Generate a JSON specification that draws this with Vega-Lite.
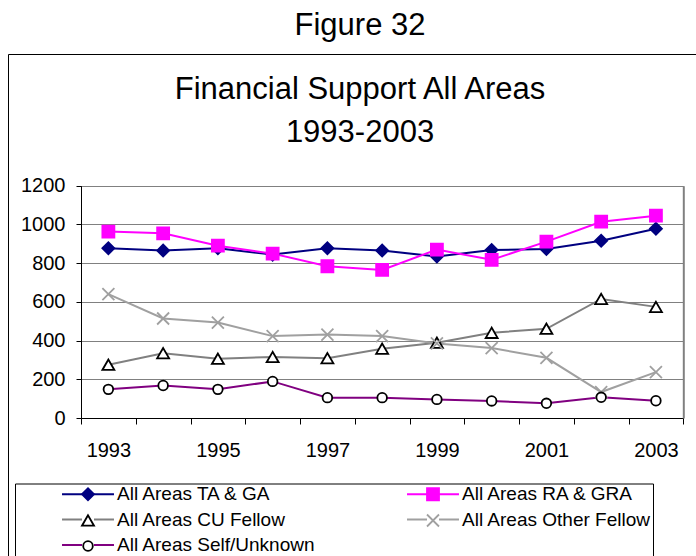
{
  "$schema": "https://vega.github.io/schema/vega-lite/v6.json",
  "width": 704,
  "height": 510,
  "autosize": {"type": "none"},
  "padding": {"left": 8, "top": 54, "right": 0, "bottom": 0},
  "background": "white",
  "config": {
    "font": "Liberation Sans",
    "view": {"stroke": "#000000", "strokeWidth": 1, "fill": "white"}
  },
  "title": {
    "text": "Figure 32",
    "subtitle": ["Financial Support All Areas", "1993-2003"],
    "fontSize": 31,
    "fontWeight": "normal",
    "color": "#000000",
    "subtitleFontSize": 31,
    "subtitleColor": "#000000",
    "subtitleLineHeight": 43,
    "subtitlePadding": 33,
    "anchor": "middle",
    "frame": "group",
    "offset": -95
  },
  "data": {
    "values": [
      {"year": 1993, "series": "All Areas TA & GA", "order": 1, "value": 877},
      {"year": 1994, "series": "All Areas TA & GA", "order": 1, "value": 865},
      {"year": 1995, "series": "All Areas TA & GA", "order": 1, "value": 877},
      {"year": 1996, "series": "All Areas TA & GA", "order": 1, "value": 844},
      {"year": 1997, "series": "All Areas TA & GA", "order": 1, "value": 877},
      {"year": 1998, "series": "All Areas TA & GA", "order": 1, "value": 865},
      {"year": 1999, "series": "All Areas TA & GA", "order": 1, "value": 834},
      {"year": 2000, "series": "All Areas TA & GA", "order": 1, "value": 868},
      {"year": 2001, "series": "All Areas TA & GA", "order": 1, "value": 873},
      {"year": 2002, "series": "All Areas TA & GA", "order": 1, "value": 916},
      {"year": 2003, "series": "All Areas TA & GA", "order": 1, "value": 978},
      {"year": 1993, "series": "All Areas RA & GRA", "order": 2, "value": 963},
      {"year": 1994, "series": "All Areas RA & GRA", "order": 2, "value": 954},
      {"year": 1995, "series": "All Areas RA & GRA", "order": 2, "value": 890},
      {"year": 1996, "series": "All Areas RA & GRA", "order": 2, "value": 849},
      {"year": 1997, "series": "All Areas RA & GRA", "order": 2, "value": 784},
      {"year": 1998, "series": "All Areas RA & GRA", "order": 2, "value": 765},
      {"year": 1999, "series": "All Areas RA & GRA", "order": 2, "value": 870},
      {"year": 2000, "series": "All Areas RA & GRA", "order": 2, "value": 817},
      {"year": 2001, "series": "All Areas RA & GRA", "order": 2, "value": 911},
      {"year": 2002, "series": "All Areas RA & GRA", "order": 2, "value": 1014},
      {"year": 2003, "series": "All Areas RA & GRA", "order": 2, "value": 1045},
      {"year": 1993, "series": "All Areas CU Fellow", "order": 3, "value": 275},
      {"year": 1994, "series": "All Areas CU Fellow", "order": 3, "value": 335},
      {"year": 1995, "series": "All Areas CU Fellow", "order": 3, "value": 306},
      {"year": 1996, "series": "All Areas CU Fellow", "order": 3, "value": 315},
      {"year": 1997, "series": "All Areas CU Fellow", "order": 3, "value": 309},
      {"year": 1998, "series": "All Areas CU Fellow", "order": 3, "value": 358},
      {"year": 1999, "series": "All Areas CU Fellow", "order": 3, "value": 389},
      {"year": 2000, "series": "All Areas CU Fellow", "order": 3, "value": 440},
      {"year": 2001, "series": "All Areas CU Fellow", "order": 3, "value": 461},
      {"year": 2002, "series": "All Areas CU Fellow", "order": 3, "value": 615},
      {"year": 2003, "series": "All Areas CU Fellow", "order": 3, "value": 574},
      {"year": 1993, "series": "All Areas Other Fellow", "order": 4, "value": 640},
      {"year": 1994, "series": "All Areas Other Fellow", "order": 4, "value": 514},
      {"year": 1995, "series": "All Areas Other Fellow", "order": 4, "value": 493},
      {"year": 1996, "series": "All Areas Other Fellow", "order": 4, "value": 423},
      {"year": 1997, "series": "All Areas Other Fellow", "order": 4, "value": 431},
      {"year": 1998, "series": "All Areas Other Fellow", "order": 4, "value": 423},
      {"year": 1999, "series": "All Areas Other Fellow", "order": 4, "value": 385},
      {"year": 2000, "series": "All Areas Other Fellow", "order": 4, "value": 361},
      {"year": 2001, "series": "All Areas Other Fellow", "order": 4, "value": 311},
      {"year": 2002, "series": "All Areas Other Fellow", "order": 4, "value": 134},
      {"year": 2003, "series": "All Areas Other Fellow", "order": 4, "value": 237},
      {"year": 1993, "series": "All Areas Self/Unknown", "order": 5, "value": 148},
      {"year": 1994, "series": "All Areas Self/Unknown", "order": 5, "value": 168},
      {"year": 1995, "series": "All Areas Self/Unknown", "order": 5, "value": 148},
      {"year": 1996, "series": "All Areas Self/Unknown", "order": 5, "value": 189},
      {"year": 1997, "series": "All Areas Self/Unknown", "order": 5, "value": 105},
      {"year": 1998, "series": "All Areas Self/Unknown", "order": 5, "value": 105},
      {"year": 1999, "series": "All Areas Self/Unknown", "order": 5, "value": 96},
      {"year": 2000, "series": "All Areas Self/Unknown", "order": 5, "value": 88},
      {"year": 2001, "series": "All Areas Self/Unknown", "order": 5, "value": 76},
      {"year": 2002, "series": "All Areas Self/Unknown", "order": 5, "value": 107},
      {"year": 2003, "series": "All Areas Self/Unknown", "order": 5, "value": 89}
    ]
  },
  "resolve": {"axis": {"y": "independent"}},
  "layer": [
    {
      "mark": {"type": "line", "strokeWidth": 2},
      "encoding": {
        "x": {
          "field": "year", "type": "ordinal", "bandPosition": 0.5,
          "scale": {"type": "band", "range": [73, 675.3], "paddingInner": 0, "paddingOuter": 0},
          "axis": {
            "orient": "bottom", "offset": -146, "title": null, "tickBand": "extent",
            "tickSize": 6, "tickColor": "#000000", "domainColor": "#000000", "domainWidth": 1,
            "labelAngle": 0, "labelFontSize": 20, "labelColor": "#000000", "labelPadding": 16,
            "labelOverlap": false, "labelFlush": false, "grid": false,
            "labelExpr": "datum.value % 2 == 1 ? datum.label : ''"
          }
        },
        "y": {
          "field": "value", "type": "quantitative",
          "scale": {"domain": [0, 1200], "range": [364, 131.7], "nice": false, "zero": true},
          "axis": {
            "orient": "left", "offset": -73, "title": null, "values": [0, 200, 400, 600, 800, 1000, 1200],
            "format": "d",
            "grid": true, "gridColor": "#808080", "gridWidth": 1, "gridOpacity": 1,
            "tickSize": 5, "tickColor": "#000000", "domainColor": "#000000", "domainWidth": 1,
            "labelFontSize": 20, "labelColor": "#000000", "labelPadding": 11
          }
        },
        "color": {
          "field": "series", "type": "nominal",
          "scale": {
            "domain": ["All Areas TA & GA", "All Areas RA & GRA", "All Areas CU Fellow", "All Areas Other Fellow", "All Areas Self/Unknown"],
            "range": ["#000080", "#FF00FF", "#808080", "#A0A0A0", "#800080"]
          },
          "legend": {
            "orient": "none", "legendX": 7, "legendY": 429.5, "columns": 2, "direction": "horizontal", "title": null,
            "symbolType": "M-4.33,0H-1M1,0H4.33", "symbolSize": 144, "symbolStrokeWidth": 2,
            "symbolOffset": 62.5, "labelOffset": 19.5, "columnPadding": 45, "rowPadding": 5.5,
            "padding": 1, "labelFontSize": 19, "labelColor": "#000000", "labelLimit": 400
          }
        }
      }
    },
    {
      "mark": {"type": "point", "size": 144, "strokeWidth": 1.8, "opacity": 1},
      "encoding": {
        "x": {
          "field": "year", "type": "ordinal", "bandPosition": 0.5,
          "scale": {"type": "band", "range": [73, 675.3], "paddingInner": 0, "paddingOuter": 0},
          "axis": {
            "orient": "bottom", "offset": -146, "title": null, "tickBand": "extent",
            "tickSize": 6, "tickColor": "#000000", "domainColor": "#000000", "domainWidth": 1,
            "labelAngle": 0, "labelFontSize": 20, "labelColor": "#000000", "labelPadding": 16,
            "labelOverlap": false, "labelFlush": false, "grid": false,
            "labelExpr": "datum.value % 2 == 1 ? datum.label : ''"
          }
        },
        "y": {
          "field": "value", "type": "quantitative",
          "scale": {"domain": [0, 1200], "range": [364, 131.7], "nice": false, "zero": true},
          "axis": {
            "orient": "right", "offset": -28.7, "title": null, "labels": false, "ticks": false,
            "grid": false, "domainColor": "#808080", "domainWidth": 2
          }
        },
        "shape": {
          "field": "series", "type": "nominal", "sort": {"field": "order", "op": "min"},
          "scale": {"range": ["diamond", "square", "triangle-up", "M-1,-1L1,1M-1,1L1,-1", "M-0.8,0A0.8,0.8,0,1,0,0.8,0A0.8,0.8,0,1,0,-0.8,0Z"]},
          "legend": {
            "orient": "none", "legendX": 7, "legendY": 429.5, "columns": 2, "direction": "horizontal", "title": null,
            "symbolSize": 144, "symbolStrokeWidth": 1.8,
            "symbolOffset": 62.5, "labelOffset": 19.5, "columnPadding": 45, "rowPadding": 5.5,
            "padding": 1, "labelFontSize": 19, "labelOpacity": 0, "labelLimit": 1000,
            "strokeColor": "#000000",
            "labelExpr": "datum.label == 'All Areas Other Fellow' ? datum.label + '                                                            ' : datum.label"
          }
        },
        "fill": {
          "field": "series", "type": "nominal", "sort": {"field": "order", "op": "min"},
          "scale": {"range": ["#000080", "#FF00FF", "#FFFFFF", "#A0A0A0", "#FFFFFF"]}
        },
        "stroke": {
          "field": "series", "type": "nominal", "sort": {"field": "order", "op": "min"},
          "scale": {"range": ["#000080", "#FF00FF", "#000000", "#A0A0A0", "#000000"]}
        }
      }
    }
  ]
}
